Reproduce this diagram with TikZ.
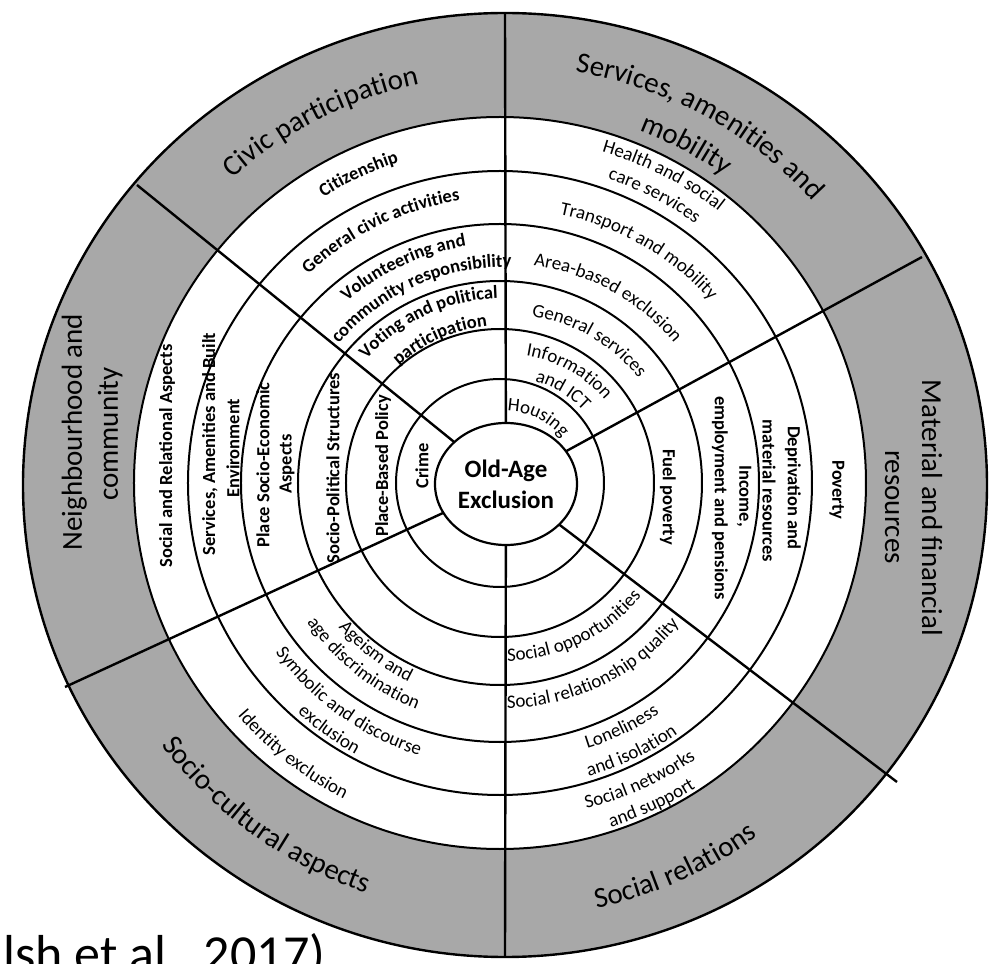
\documentclass[tikz,border=0pt]{standalone}
\usepackage{fontspec}
\setmainfont{Carlito}
\usetikzlibrary{decorations.text}
\definecolor{bandgray}{RGB}{168,168,168}
\newcommand\outf{\fontsize{29pt}{34pt}\selectfont}
\newcommand\labf{\fontsize{19pt}{21pt}\selectfont}
\newcommand\labbf{\fontsize{18.5pt}{21pt}\selectfont\bfseries}
\newcommand\cwlab[4][\labf]{\path[decorate,decoration={text along path,text align=center,text={|#1|#4}}] ({#2+70}:#3) arc[start angle={#2+70},end angle={#2-70},radius=#3];}
\newcommand\ccwlab[4][\labf]{\path[decorate,decoration={text along path,text align=center,text={|#1|#4}}] ({#2-70}:#3) arc[start angle={#2-70},end angle={#2+70},radius=#3];}
\tikzset{
  ring/.style={line width=2pt},
  divider/.style={line width=2.4pt},
  nbl/.style={rotate=90,font=\labbf,inner sep=0pt,anchor=center},
  mtl/.style={rotate=-90,font=\labbf,inner sep=0pt,anchor=center},
  outl/.style={font=\outf,inner sep=0pt,anchor=base}
}
\begin{document}
\begin{tikzpicture}[x=1pt,y=1pt,line join=round]
\clip (-505,-479) rectangle (489,485);
\fill[white] (-505,-479) rectangle (489,485);
\coordinate (RC) at (-5,2);
\coordinate (O) at (1,1);
% grey band
\fill[bandgray,even odd rule] (0,0) ellipse[x radius=482,y radius=472] (RC) circle[radius=366];
\draw[line width=2.4pt] (0,0) ellipse[x radius=482,y radius=472];
\foreach \r in {104,154,202,259,312,366} \draw[ring] (RC) circle[radius=\r];
% dividers
\coordinate (dUp) at (0,472);
\coordinate (dUR) at (417,228);
\coordinate (dLR) at (392,-297);
\coordinate (dDn) at (0,-472);
\coordinate (dLL) at (-440,-202);
\coordinate (dUL) at (-368,300);
\foreach \d in {dUp,dUR,dLR,dDn,dLL,dUL} \draw[divider] (O) -- (\d);
% core
\filldraw[fill=white,line width=2.2pt] (O) ellipse[x radius=71,y radius=61];
\node[font=\fontsize{25pt}{31pt}\selectfont\bfseries,align=center,inner sep=0pt] (core) at (1,1) {Old-Age\\Exclusion};
% outer band labels
\cwlab[\outf]{116.8}{410}{Civic participation}
\cwlab[\outf]{61.5}{419}{Services{,} amenities and}
\cwlab[\outf]{62}{379}{mobility}
\ccwlab[\outf]{234.2}{431}{Socio-cultural aspects}
\ccwlab[\outf]{294}{433}{Social relations}
\node[outl,rotate=90] (nb1) at (-423,53) {Neighbourhood and};
\node[outl,rotate=90] (nb2) at (-387,51) {community};
\node[outl,rotate=-90] (mf1) at (417,-23) {Material and financial};
\node[outl,rotate=-90] (mf2) at (380,-22) {resources};
% civic participation
\cwlab[\labbf]{115.2}{340}{Citizenship}
\cwlab[\labbf]{116}{288}{General civic activities}
\cwlab[\labbf]{115}{242}{Volunteering and}
\cwlab[\labbf]{114}{218}{community responsibility}
\cwlab[\labbf]{115}{187}{Voting and political}
\cwlab[\labbf]{114}{160}{participation}
% services
\cwlab{62.9}{347}{Health and social}
\cwlab{62.7}{323}{care services}
\cwlab{60.3}{276}{Transport and mobility}
\cwlab{61.3}{221}{Area-based exclusion}
\cwlab{59.8}{171}{General services}
\cwlab{60.6}{131}{Information}
\cwlab{58.7}{108}{and ICT}
\cwlab{64}{74}{Housing}
% socio-cultural
\ccwlab{232.2}{219}{Ageism and}
\ccwlab{231.6}{241}{age discrimination}
\ccwlab{234.2}{284}{Symbolic and discourse}
\ccwlab{234.3}{308}{exclusion}
\ccwlab{231.8}{353}{Identity exclusion}
% social relations
\ccwlab{295.8}{176}{Social opportunities}
\ccwlab{296}{223}{Social relationship quality}
\ccwlab{295.7}{276}{Loneliness}
\ccwlab{295.4}{303}{and isolation}
\ccwlab{294.5}{334}{Social networks}
\ccwlab{294.7}{358}{and support}
% neighbourhood
\node[nbl] (n1) at (-338,29) {Social and Relational Aspects};
\node[nbl] (n2a) at (-295,41) {Services, Amenities and Built};
\node[nbl] (n2b) at (-272,37) {Environment};
\node[nbl] (n3a) at (-242,20) {Place Socio-Economic};
\node[nbl] (n3b) at (-218,21) {Aspects};
\node[nbl] (n4) at (-172,17) {Socio-Political Structures};
\node[nbl] (n5) at (-122,19) {Place-Based Policy};
\node[nbl] (n6) at (-83,19) {Crime};
% material
\node[mtl] (m1) at (332,-5) {Poverty};
\node[mtl] (m2a) at (288,-3) {Deprivation and};
\node[mtl] (m2b) at (264,-6) {material resources};
\node[mtl] (m3a) at (239,-11) {Income,};
\node[mtl] (m3b) at (215,-13) {employment and pensions};
\node[mtl] (m4) at (163,-12) {Fuel poverty};
% citation fragment
\node[font=\fontsize{52pt}{60pt}\selectfont,anchor=base west,inner sep=0pt] (cite) at (-502,-486) {lsh et al., 2017)};
\end{tikzpicture}
\end{document}
